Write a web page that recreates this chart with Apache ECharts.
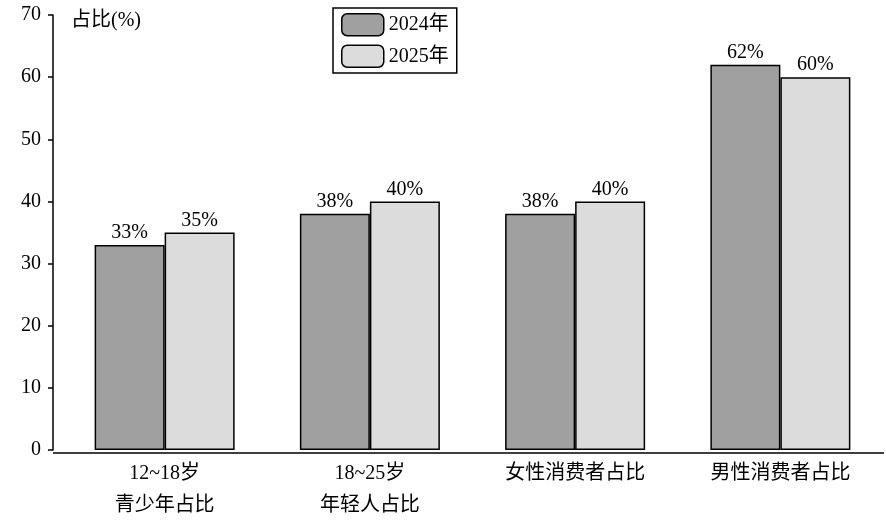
<!DOCTYPE html>
<html><head><meta charset="utf-8">
<script src="https://cdn.jsdelivr.net/npm/echarts@6/dist/echarts.min.js"></script>
<style>html,body{margin:0;padding:0;background:#fff}#c{width:886px;height:522px}</style>
</head><body><div id="c"></div>
<script>
const categories = ['12~18岁\n青少年占比', '18~25岁\n年轻人占比', '女性消费者占比', '男性消费者占比'];
const series2024 = [33, 38, 38, 62];
const series2025 = [35, 40, 40, 60];
const seriesNames = ['2024年', '2025年'];
const yTicks = [0, 10, 20, 30, 40, 50, 60, 70];
const FONT = '"Liberation Serif","Noto Sans CJK SC",serif';
const chart = echarts.init(document.getElementById('c'));
const bar = (name, data, color) => ({
  name, type: 'bar', data, barWidth: 70, barGap: '0%',
  itemStyle: { color, borderColor: '#000', borderWidth: 1.5 },
  label: { show: true, position: 'top', formatter: '{c}%', color: '#000', fontSize: 20, fontFamily: FONT, distance: 2 }
});
chart.setOption({
  animation: false,
  title: { text: '占比(%)', left: 66, top: 6, textStyle: { fontSize: 20, fontWeight: 'normal', color: '#000', fontFamily: FONT } },
  legend: {
    orient: 'vertical', left: 333, top: 8, padding: [5, 8, 5, 8], itemGap: 8,
    itemWidth: 42, itemHeight: 22, borderColor: '#000', borderWidth: 1.5,
    textStyle: { fontSize: 20, color: '#000', fontFamily: FONT },
    itemStyle: { borderColor: '#000', borderWidth: 1.5 }
  },
  grid: { left: 62, right: 3, top: 15, bottom: 69 },
  xAxis: {
    type: 'category', data: categories,
    axisLine: { show: false }, axisTick: { show: false },
    axisLabel: { color: '#000', fontSize: 20, fontFamily: FONT, lineHeight: 32, margin: 8 }
  },
  yAxis: {
    type: 'value', min: yTicks[0], max: yTicks[yTicks.length - 1], interval: 10, offset: 9,
    splitLine: { show: false },
    axisLine: { show: true, lineStyle: { color: '#000', width: 1.5 } },
    axisTick: { show: true, length: 5, lineStyle: { color: '#000', width: 1.5 } },
    axisLabel: { color: '#000', fontSize: 20, fontFamily: FONT, margin: 12 }
  },
  graphic: [{ type: 'line', shape: { x1: 53, y1: 453, x2: 884, y2: 453 }, style: { stroke: '#000', lineWidth: 1.5 }, z: 10 }],
  series: [bar(seriesNames[0], series2024, '#a0a0a0'), bar(seriesNames[1], series2025, '#dcdcdc')]
});
</script></body></html>
